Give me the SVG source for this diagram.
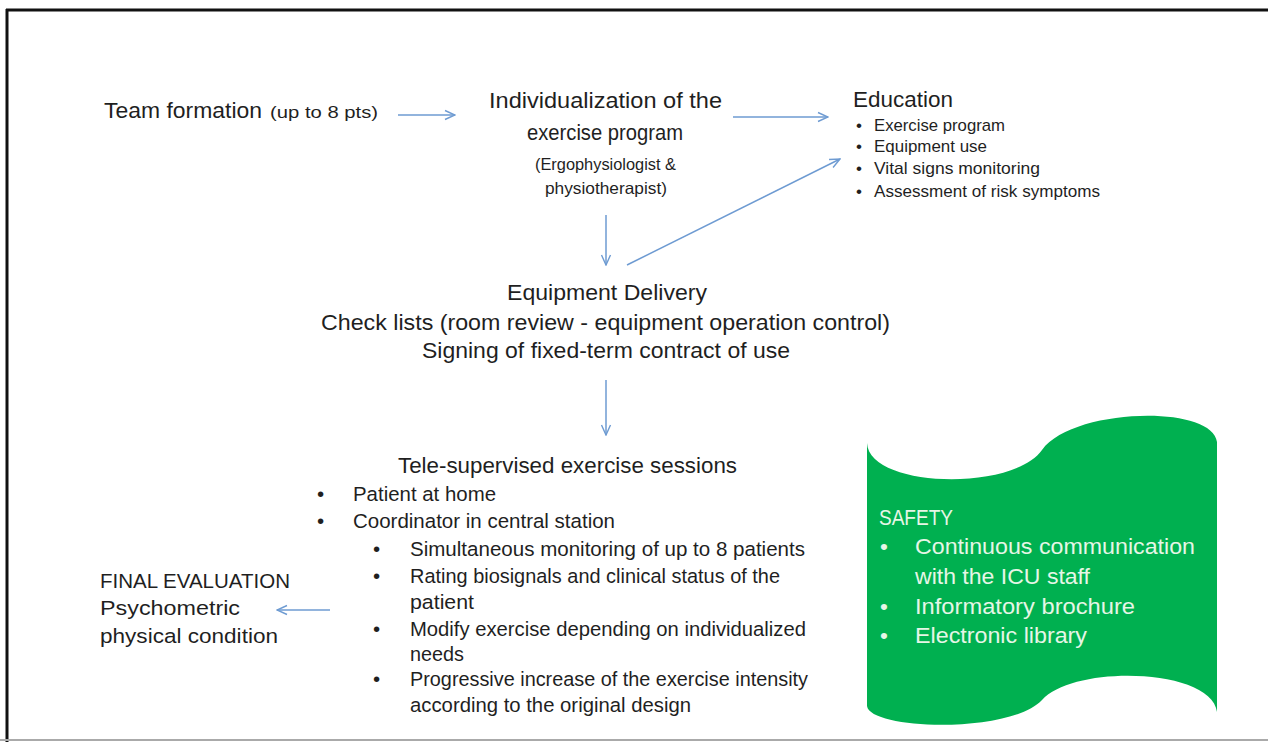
<svg xmlns="http://www.w3.org/2000/svg" width="1268" height="742" viewBox="0 0 1268 742">
<defs>
<marker id="ah" viewBox="0 0 12 12" refX="11" refY="6" markerWidth="12" markerHeight="12" markerUnits="userSpaceOnUse" orient="auto">
<path d="M1,1.5 L11,6 L1,10.5" fill="none" stroke="#6e9bd2" stroke-width="1.4"/>
</marker>
<style>
text{font-family:"Liberation Sans",Arial,sans-serif;fill:#1f1f1f}
.l{font-size:22px}
.m{font-size:20.5px}
.s{font-size:16.5px}
.b{font-size:17px}
.w{font-size:22.5px;fill:#e6f6e6}
.c{stroke:#6e9bd2;stroke-width:1.5;fill:none;marker-end:url(#ah)}
</style>
</defs>
<rect x="0" y="0" width="1268" height="742" fill="#fff"/>
<g id="frame">
<line x1="6" y1="10" x2="1268" y2="10" stroke="#111" stroke-width="3"/>
<line x1="7" y1="9" x2="7" y2="742" stroke="#111" stroke-width="3"/>
<line x1="0" y1="740" x2="1268" y2="740" stroke="#aaa" stroke-width="2"/>
</g>
<g id="connectors">
<line class="c" x1="398" y1="115" x2="455" y2="115"/>
<line class="c" x1="733" y1="117" x2="828" y2="117"/>
<line class="c" x1="606" y1="215" x2="606" y2="265"/>
<line class="c" x1="627" y1="265" x2="840" y2="159"/>
<line class="c" x1="606" y1="380" x2="606" y2="435"/>
<line class="c" x1="330" y1="610" x2="277" y2="610"/>
</g>
<g id="team">
<text class="l" x="104" y="118" textLength="158" lengthAdjust="spacingAndGlyphs">Team formation</text>
<text class="s" x="270" y="118" textLength="108" lengthAdjust="spacingAndGlyphs">(up to 8 pts)</text>
</g>
<g id="individualization">
<text class="l" x="489" y="108" textLength="233" lengthAdjust="spacingAndGlyphs">Individualization of the</text>
<text class="l" x="527" y="140" textLength="156" lengthAdjust="spacingAndGlyphs">exercise program</text>
<text class="s" x="535" y="170" textLength="141" lengthAdjust="spacingAndGlyphs">(Ergophysiologist &amp;</text>
<text class="s" x="545" y="194" textLength="122" lengthAdjust="spacingAndGlyphs">physiotherapist)</text>
</g>
<g id="education">
<text class="l" x="853" y="107" textLength="100" lengthAdjust="spacingAndGlyphs">Education</text>
<text class="b" x="856" y="131">•</text>
<text class="b" x="874" y="131" textLength="131" lengthAdjust="spacingAndGlyphs">Exercise program</text>
<text class="b" x="856" y="152">•</text>
<text class="b" x="874" y="152" textLength="113" lengthAdjust="spacingAndGlyphs">Equipment use</text>
<text class="b" x="856" y="174">•</text>
<text class="b" x="874" y="174" textLength="166" lengthAdjust="spacingAndGlyphs">Vital signs monitoring</text>
<text class="b" x="856" y="197">•</text>
<text class="b" x="874" y="197" textLength="226" lengthAdjust="spacingAndGlyphs">Assessment of risk symptoms</text>
</g>
<g id="delivery">
<text class="l" x="507" y="300" textLength="200" lengthAdjust="spacingAndGlyphs">Equipment Delivery</text>
<text class="l" x="321" y="330" textLength="569" lengthAdjust="spacingAndGlyphs">Check lists (room review - equipment operation control)</text>
<text class="l" x="422" y="358" textLength="368" lengthAdjust="spacingAndGlyphs">Signing of fixed-term contract of use</text>
</g>
<g id="sessions">
<text class="l" x="398" y="473" textLength="339" lengthAdjust="spacingAndGlyphs">Tele-supervised exercise sessions</text>
<text class="m" x="317" y="501">•</text>
<text class="m" x="353" y="501" textLength="143" lengthAdjust="spacingAndGlyphs">Patient at home</text>
<text class="m" x="317" y="528">•</text>
<text class="m" x="353" y="528" textLength="262" lengthAdjust="spacingAndGlyphs">Coordinator in central station</text>
<text class="m" x="373" y="556">•</text>
<text class="m" x="410" y="556" textLength="395" lengthAdjust="spacingAndGlyphs">Simultaneous monitoring of up to 8 patients</text>
<text class="m" x="373" y="583">•</text>
<text class="m" x="410" y="583" textLength="370" lengthAdjust="spacingAndGlyphs">Rating biosignals and clinical status of the</text>
<text class="m" x="410" y="609" textLength="64" lengthAdjust="spacingAndGlyphs">patient</text>
<text class="m" x="373" y="636">•</text>
<text class="m" x="410" y="636" textLength="396" lengthAdjust="spacingAndGlyphs">Modify exercise depending on individualized</text>
<text class="m" x="410" y="661" textLength="54" lengthAdjust="spacingAndGlyphs">needs</text>
<text class="m" x="373" y="686">•</text>
<text class="m" x="410" y="686" textLength="398" lengthAdjust="spacingAndGlyphs">Progressive increase of the exercise intensity</text>
<text class="m" x="410" y="712" textLength="281" lengthAdjust="spacingAndGlyphs">according to the original design</text>
</g>
<g id="final">
<text class="m" x="100" y="588" textLength="190" lengthAdjust="spacingAndGlyphs">FINAL EVALUATION</text>
<text class="m" x="100" y="615" textLength="140" lengthAdjust="spacingAndGlyphs">Psychometric</text>
<text class="m" x="100" y="643" textLength="178" lengthAdjust="spacingAndGlyphs">physical condition</text>
</g>
<g id="safety">
<path d="M867,443 C869,488 1012,492 1042,450 C1072,408 1212,404 1217,442 L1217,712 C1212,668 1074,664 1042,700 C1010,734 870,730 867,706 Z" fill="#00b050"/>
<text class="w" x="879" y="525" textLength="74" lengthAdjust="spacingAndGlyphs">SAFETY</text>
<text class="w" x="880" y="554">•</text>
<text class="w" x="915" y="554" textLength="280" lengthAdjust="spacingAndGlyphs">Continuous communication</text>
<text class="w" x="915" y="584" textLength="175" lengthAdjust="spacingAndGlyphs">with the ICU staff</text>
<text class="w" x="880" y="614">•</text>
<text class="w" x="915" y="614" textLength="220" lengthAdjust="spacingAndGlyphs">Informatory brochure</text>
<text class="w" x="880" y="643">•</text>
<text class="w" x="915" y="643" textLength="172" lengthAdjust="spacingAndGlyphs">Electronic library</text>
</g>
</svg>
